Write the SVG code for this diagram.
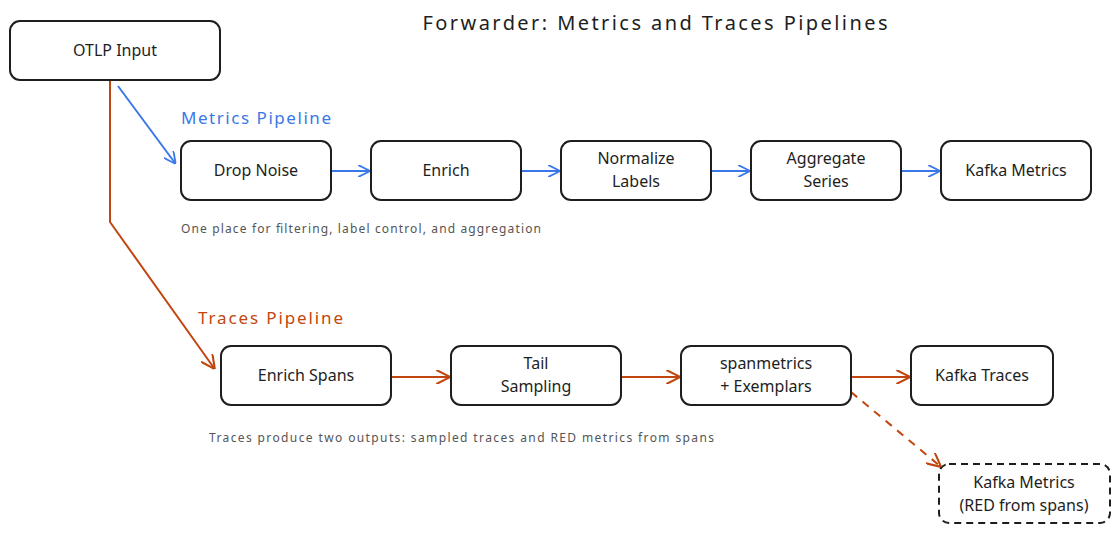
<svg xmlns="http://www.w3.org/2000/svg" width="1120" height="535" viewBox="0 0 1120 535">
<defs>
<style>
.n{fill:#fff;stroke:#1e1e1e;stroke-width:2}
.t{font-family:"Noto Sans",sans-serif;font-size:16px;fill:#1e1e1e;text-anchor:middle}
.c{font-family:"Noto Sans",sans-serif;font-size:12px;fill:#555}
.b{stroke:#3b78e7;stroke-width:2;fill:none}
.o{stroke:#c2460f;stroke-width:2;fill:none}
</style>
<marker id="ab" viewBox="0 0 10 10" refX="9" refY="5" markerWidth="12" markerHeight="12" orient="auto" markerUnits="userSpaceOnUse"><path d="M0,0L10,5L0,10" fill="none" stroke="#3b78e7" stroke-width="1.5"/></marker>
<marker id="ao" viewBox="0 0 10 10" refX="9" refY="5" markerWidth="14" markerHeight="14" orient="auto" markerUnits="userSpaceOnUse"><path d="M0,0L10,5L0,10" fill="none" stroke="#c2460f" stroke-width="1.5"/></marker>
</defs>
<rect width="1120" height="535" fill="#fff"/>
<text x="655" y="30" class="t" style="font-size:20px" textLength="465" lengthAdjust="spacing">Forwarder: Metrics and Traces Pipelines</text>
<text x="181" y="124" style="font-family:'Noto Sans',sans-serif;font-size:17px;fill:#3b78e7" textLength="150" lengthAdjust="spacing">Metrics Pipeline</text>
<text x="198" y="324" style="font-family:'Noto Sans',sans-serif;font-size:17px;fill:#c2460f" textLength="145" lengthAdjust="spacing">Traces Pipeline</text>
<text x="181" y="233" class="c" textLength="360" lengthAdjust="spacing">One place for filtering, label control, and aggregation</text>
<text x="209" y="442" class="c" textLength="505" lengthAdjust="spacing">Traces produce two outputs: sampled traces and RED metrics from spans</text>
<g id="connectors">
<path class="b" d="M118,86L175,163" marker-end="url(#ab)"/>
<path class="o" d="M110,80L110,222L214,368" marker-end="url(#ao)"/>
<path class="b" d="M331,171L369,171" marker-end="url(#ab)"/>
<path class="b" d="M522,171L559,171" marker-end="url(#ab)"/>
<path class="b" d="M712,171L749,171" marker-end="url(#ab)"/>
<path class="b" d="M902,171L939,171" marker-end="url(#ab)"/>
<path class="o" d="M392,377L449,377" marker-end="url(#ao)"/>
<path class="o" d="M622,377L679,377" marker-end="url(#ao)"/>
<path class="o" d="M852,377L909,377" marker-end="url(#ao)"/>
<path class="o" d="M851,392L940,466" stroke-dasharray="8 7" marker-end="url(#ao)"/>
</g>
<g id="otlp"><rect class="n" x="10" y="21" width="210" height="59" rx="10"/><text class="t" x="115" y="56">OTLP Input</text></g>
<g id="drop"><rect class="n" x="181" y="141" width="150" height="59" rx="10"/><text class="t" x="256" y="176">Drop Noise</text></g>
<g id="enrich"><rect class="n" x="371" y="141" width="150" height="59" rx="10"/><text class="t" x="446" y="176">Enrich</text></g>
<g id="normalize"><rect class="n" x="561" y="141" width="150" height="59" rx="10"/><text class="t" x="636" y="164">Normalize</text><text class="t" x="636" y="187">Labels</text></g>
<g id="aggregate"><rect class="n" x="751" y="141" width="150" height="59" rx="10"/><text class="t" x="826" y="164">Aggregate</text><text class="t" x="826" y="187">Series</text></g>
<g id="kafkametrics"><rect class="n" x="941" y="141" width="150" height="59" rx="10"/><text class="t" x="1016" y="176">Kafka Metrics</text></g>
<g id="enrichspans"><rect class="n" x="221" y="346" width="170" height="59" rx="10"/><text class="t" x="306" y="381">Enrich Spans</text></g>
<g id="tail"><rect class="n" x="451" y="346" width="170" height="59" rx="10"/><text class="t" x="536" y="369">Tail</text><text class="t" x="536" y="392">Sampling</text></g>
<g id="spanmetrics"><rect class="n" x="681" y="346" width="170" height="59" rx="10"/><text class="t" x="766" y="369">spanmetrics</text><text class="t" x="766" y="392">+ Exemplars</text></g>
<g id="kafkatraces"><rect class="n" x="911" y="346" width="142" height="59" rx="10"/><text class="t" x="982" y="381">Kafka Traces</text></g>
<g id="kafkared"><rect class="n" x="939" y="464" width="171" height="59" rx="10" stroke-dasharray="7 5"/><text class="t" x="1024" y="488">Kafka Metrics</text><text class="t" x="1024" y="511">(RED from spans)</text></g>
</svg>
